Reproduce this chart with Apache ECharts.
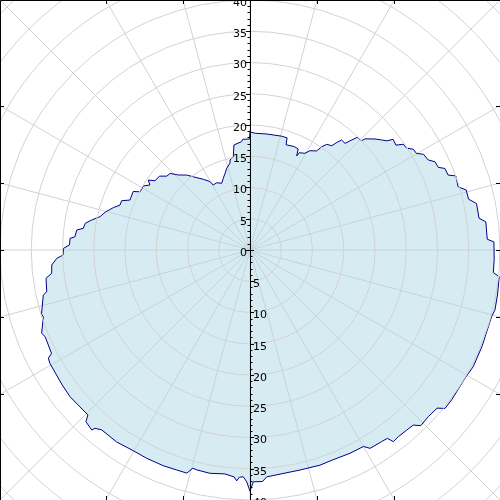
<!DOCTYPE html>
<html><head><meta charset="utf-8">
<script src="https://cdn.jsdelivr.net/npm/echarts@6/dist/echarts.min.js"></script>
<style>html,body{margin:0;padding:0;background:#fff}#c{width:500px;height:500px}</style>
</head><body><div id="c"></div>
<script>
// compass angle (deg, 0 = up, clockwise) and radius values
const angles = [0, 2.5, 8.2, 15.5, 18.3, 18.9, 23.2, 25.5, 26.4, 26.9, 29.6, 31.1, 33.9, 34.8, 36.0, 38.1, 38.9, 39.8, 41.7, 42.5,
  43.6, 45.6, 46.0, 48.4, 50.1, 51.4, 52.3, 54.3, 55.4, 57.0, 58.3, 59.9, 61.1, 63.2, 64.5, 66.3, 67.3, 69.3, 70.2, 73.1,
  74.5, 76.9, 78.4, 82.1, 83.2, 87.4, 88.1, 92.3, 95.3, 96.1, 100.3, 103.8, 105.4, 112.6, 117.6, 120.8, 126.6, 129.1, 130.2, 133.1,
  135.8, 137.0, 139.0, 141.5, 143.2, 143.9, 145.5, 148.8, 150.0, 153.8, 158.4, 162.0, 167.2, 171.6, 175.8, 176.9, 179.2, 180.0, 180.8, 181.7,
  182.7, 183.3, 184.0, 186.4, 190.2, 193.6, 194.7, 195.8, 198.4, 201.9, 206.4, 210.2, 214.8, 219.5, 221.0, 221.3, 223.7, 224.5, 230.8, 234.3,
  240.5, 241.8, 242.5, 247.1, 248.2, 252.1, 252.9, 257.7, 258.4, 262.1, 263.3, 265.7, 267.5, 268.5, 270.5, 271.6, 273.7, 274.3, 276.6, 277.4,
  279.2, 280.7, 282.5, 284.9, 287.2, 289.1, 291.0, 292.6, 296.6, 297.9, 301.0, 303.0, 304.5, 306.1, 309.2, 311.6, 313.8, 316.3, 319.8, 322.3,
  326.6, 329.6, 330.5, 333.7, 337.0, 339.6, 342.0, 344.1, 347.0, 347.5, 349.9, 351.3, 355.6, 356.2, 359.7, 360];
const radii = [18.9, 18.7, 18.75, 18.9, 18.9, 17.8, 18.0, 17.9, 16.8, 17.45, 17.8, 18.55, 19.1, 20.1, 20.9, 21.2, 22.1, 22.9, 22.85, 23.7,
  24.9, 25.0, 25.6, 26.75, 27.45, 28.0, 28.95, 28.75, 29.8, 29.9, 30.7, 30.8, 31.7, 31.95, 32.8, 32.9, 33.8, 33.9, 35.0, 34.8,
  35.9, 35.9, 37.0, 37.0, 38.0, 38.0, 39.05, 39.1, 39.1, 40.1, 40.25, 40.35, 40.1, 40.2, 40.3, 40.05, 40.2, 40.2, 39.2, 39.05,
  39.2, 38.3, 38.2, 38.15, 38.3, 37.3, 37.2, 37.1, 36.3, 36.25, 36.1, 36.2, 36.1, 36.15, 36.4, 37.1, 37.1, 38.6, 37.1, 36.3,
  36.4, 37.0, 36.4, 36.05, 36.3, 36.2, 36.1, 37.1, 37.1, 37.2, 37.2, 37.15, 37.4, 37.3, 37.8, 38.35, 38.0, 37.0, 37.15, 37.0,
  36.8, 36.6, 35.8, 35.6, 35.9, 34.75, 34.9, 33.85, 33.2, 32.95, 31.95, 31.8, 30.95, 29.9, 29.85, 28.9, 28.85, 28.1, 27.9, 26.9,
  26.7, 25.8, 24.6, 23.85, 22.9, 22.0, 22.0, 20.8, 20.9, 19.9, 19.9, 19.1, 19.75, 18.8, 18.7, 17.8, 17.7, 16.6, 15.7, 14.8,
  13.55, 12.7, 11.95, 12.0, 11.6, 12.25, 12.9, 13.6, 14.25, 14.75, 15.2, 17.0, 17.4, 17.75, 17.75, 18.9];
const radiusTickStep = 5;
const radiusMaxLabel = 40;
const angleStep = 15;

const chart = echarts.init(document.getElementById('c'), null, {renderer: 'canvas'});
const seriesData = angles.map((a, i) => [radii[i], a]);
const gridColor = '#d2d2d2';
const labelStyle = {fontSize: 11, fontFamily: 'DejaVu Sans', color: '#000', margin: 3, verticalAlign: 'top', lineHeight: 6};

chart.setOption({
  animation: false,
  polar: [{center: [250, 250], radius: 375}, {center: [250, 250], radius: 375}],
  angleAxis: [
    {polarIndex: 0, type: 'value', min: 0, max: 360, interval: angleStep, startAngle: 90, clockwise: true,
      axisLine: {show: false}, axisTick: {show: false}, axisLabel: {show: false},
      splitLine: {show: true, lineStyle: {color: gridColor, width: 1}}},
    {polarIndex: 1, type: 'value', min: 0, max: 360, interval: angleStep, startAngle: 270, clockwise: true,
      axisLine: {show: false}, axisTick: {show: false}, axisLabel: {show: false}, splitLine: {show: false}}
  ],
  radiusAxis: [
    {polarIndex: 0, type: 'value', min: 0, max: 60, interval: radiusTickStep, z: 10,
      axisLine: {show: true, lineStyle: {color: '#000', width: 1}},
      axisTick: {show: true, inside: true, length: 4, lineStyle: {color: '#000'}},
      minorTick: {show: true, splitNumber: 5, length: 2.5, lineStyle: {color: '#000'}},
      axisLabel: Object.assign({formatter: v => v <= radiusMaxLabel ? String(v) : ''}, labelStyle),
      splitLine: {show: true, lineStyle: {color: gridColor, width: 1}}},
    {polarIndex: 1, type: 'value', min: 0, max: 60, interval: radiusTickStep, z: 10,
      axisLine: {show: true, lineStyle: {color: '#000', width: 1}},
      axisTick: {show: true, length: 4, lineStyle: {color: '#000'}},
      minorTick: {show: true, splitNumber: 5, length: 2.5, lineStyle: {color: '#000'}},
      axisLabel: Object.assign({inside: true, formatter: v => (v > 0 && v <= radiusMaxLabel) ? String(v) : ''}, labelStyle),
      splitLine: {show: false}}
  ],
  series: [{
    type: 'line', coordinateSystem: 'polar', polarIndex: 0, data: seriesData,
    symbol: 'none', smooth: false, z: 2,
    lineStyle: {color: '#00008b', width: 1},
    areaStyle: {color: 'rgba(173,216,230,0.5)', opacity: 1}
  }]
});

// frame with ticks where the angular grid lines meet it
const W = 500, H = 500;
const c0 = chart.convertToPixel({polarIndex: 0}, [0, 0]);
const els = [{type: 'rect', shape: {x: 0.5, y: 0.5, width: W, height: H}, style: {fill: null, stroke: '#000', lineWidth: 1}, z: 100}];
for (let a = 0; a < 360; a += angleStep) {
  const p = chart.convertToPixel({polarIndex: 0}, [40, a]);
  const dx = p[0] - c0[0], dy = p[1] - c0[1];
  if (Math.abs(Math.abs(dx) - Math.abs(dy)) < 1e-6) continue;
  let x1, y1, x2, y2;
  if (Math.abs(dx) > Math.abs(dy)) {
    const t = (dx > 0 ? W - c0[0] : c0[0]) / Math.abs(dx);
    const y = Math.round(c0[1] + dy * t) + 0.5;
    x1 = dx > 0 ? W : 0; x2 = dx > 0 ? W - 4 : 4; y1 = y2 = y;
  } else {
    const t = (dy > 0 ? H - c0[1] : c0[1]) / Math.abs(dy);
    const x = Math.round(c0[0] + dx * t) + 0.5;
    y1 = dy > 0 ? H : 0; y2 = dy > 0 ? H - 4 : 4; x1 = x2 = x;
  }
  els.push({type: 'line', shape: {x1, y1, x2, y2}, style: {stroke: '#000', lineWidth: 1}, z: 100});
}
chart.setOption({graphic: {elements: els}});
</script></body></html>
